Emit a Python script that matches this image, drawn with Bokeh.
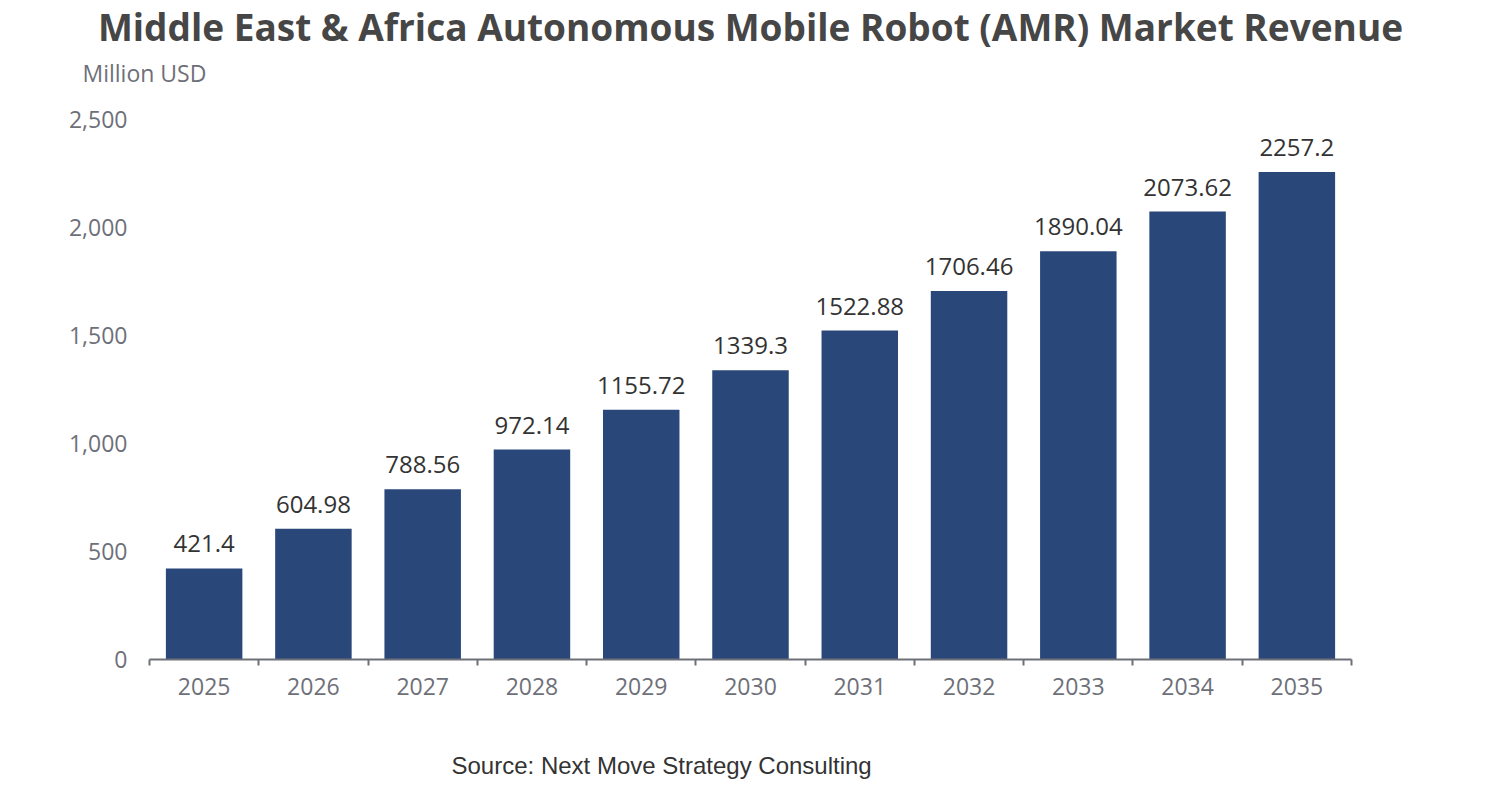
from bokeh.plotting import figure
from bokeh.layouts import column
from bokeh.models import (ColumnDataSource, Range1d, FixedTicker, NumeralTickFormatter,
                          LabelSet, Label, LinearAxis)
from bokeh.core.properties import value
from bokeh.embed import file_html
from bokeh.resources import INLINE

years = ["2025", "2026", "2027", "2028", "2029", "2030", "2031", "2032", "2033", "2034", "2035"]
revenue = [421.4, 604.98, 788.56, 972.14, 1155.72, 1339.3, 1522.88, 1706.46, 1890.04, 2073.62, 2257.2]
y_ticks = [0, 500, 1000, 1500, 2000, 2500]

title_text = "Middle East & Africa Autonomous Mobile Robot (AMR) Market Revenue"
unit_text = "Million USD"
source_text = "Source: Next Move Strategy Consulting"

n = len(years)
xpos = [i + 0.5 for i in range(n)]
src = ColumnDataSource(dict(x=xpos, year=years, rev=revenue,
                            lbl=[f"{v:g}" for v in revenue]))

W = 1486


def text_panel(h):
    f = figure(width=W, height=h, output_backend="svg", toolbar_location=None,
               x_range=Range1d(0, 1), y_range=Range1d(0, 1),
               min_border=0, x_axis_type=None, y_axis_type=None, title=None)
    f.outline_line_color = None
    f.background_fill_color = "white"
    f.border_fill_color = "white"
    f.xgrid.visible = False
    f.ygrid.visible = False
    f.frame_align = False
    return f


# header: title and unit
top = text_panel(99)
top.add_layout(Label(x=750, y=26, x_units="canvas", y_units="canvas", text=title_text,
                     text_font="Open Sans", text_font_style="bold", text_font_size="37px",
                     text_color="#464646", text_align="center", text_baseline="alphabetic"))
top.add_layout(Label(x=82, y=72, x_units="canvas", y_units="canvas", text=unit_text,
                     text_font="Open Sans", text_font_size="23px", text_color="#6E7079",
                     text_align="left", text_baseline="alphabetic"))

# main chart
p = figure(width=W, height=615, output_backend="svg", toolbar_location=None,
           x_range=Range1d(0, n), y_range=Range1d(0, y_ticks[-1]),
           min_border_left=149, min_border_right=135, min_border_top=20,
           min_border_bottom=55, x_axis_type=None, y_axis_type=None, title=None)
p.outline_line_color = None
p.background_fill_color = "white"
p.border_fill_color = "white"
p.frame_align = False

p.vbar(x="x", top="rev", width=0.7, source=src, fill_color="#2A4779", line_color=None)

yax = LinearAxis(ticker=FixedTicker(ticks=y_ticks),
                 formatter=NumeralTickFormatter(format="0,0"))
yax.axis_line_color = None
yax.major_tick_line_color = None
yax.minor_tick_line_color = None
yax.major_label_text_font = "Open Sans"
yax.major_label_text_font_size = "23px"
yax.major_label_text_color = "#6E7079"
yax.major_label_standoff = 16
p.add_layout(yax, "left")

xax = LinearAxis(ticker=FixedTicker(ticks=xpos, minor_ticks=list(range(n + 1))))
xax.major_label_overrides = {x: y for x, y in zip(xpos, years)}
xax.axis_line_color = "#6E7079"
xax.axis_line_width = 2
xax.major_tick_line_color = None
xax.minor_tick_line_color = "#6E7079"
xax.minor_tick_line_width = 2
xax.minor_tick_out = 6
xax.minor_tick_in = 0
xax.major_label_text_font = "Open Sans"
xax.major_label_text_font_size = "23px"
xax.major_label_text_color = "#6E7079"
xax.major_label_standoff = 12
p.add_layout(xax, "below")

p.ygrid.ticker = FixedTicker(ticks=y_ticks)
p.ygrid.grid_line_color = "#E0E6F1"
p.ygrid.grid_line_width = 1.5
p.xgrid.grid_line_color = None

labels = LabelSet(x="x", y="rev", text="lbl", source=src, text_align="center",
                  text_baseline="alphabetic", y_offset=16, text_font=value("Open Sans"),
                  text_font_size=value("24px"), text_color="#333333")
p.add_layout(labels)

# footer: source
bottom = text_panel(70)
bottom.add_layout(Label(x=451, y=51, x_units="canvas", y_units="canvas", text=source_text,
                        text_font="Liberation Sans", text_font_size="24px",
                        text_color="#333333", text_align="left", text_baseline="alphabetic"))

layout = column(top, p, bottom, spacing=0)
open("out.html", "w").write(file_html(layout, INLINE))
